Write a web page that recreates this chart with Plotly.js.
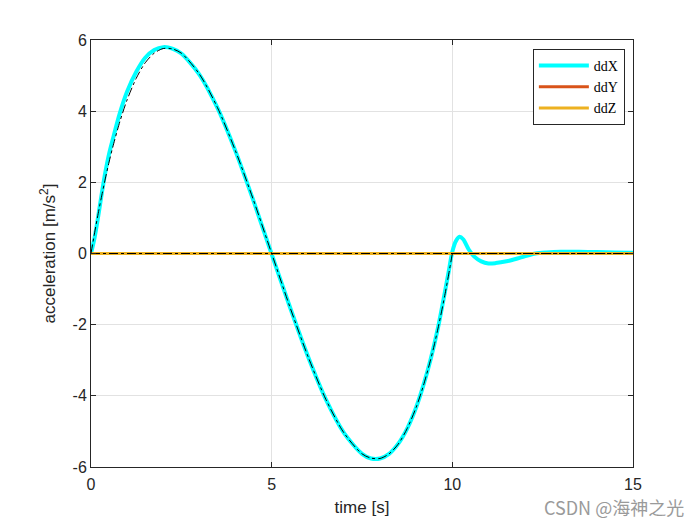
<!DOCTYPE html>
<html>
<head>
<meta charset="utf-8">
<script src="https://cdn.plot.ly/plotly-3.0.1.min.js"></script>
<style>
  html, body { margin: 0; padding: 0; background: #fff; }
  #plot { width: 700px; height: 525px; }
</style>
</head>
<body>
<div id="plot"></div>
<script>
// time samples [s] and values
const tX = [0, 0.1, 0.2, 0.3, 0.4, 0.5, 0.6, 0.8, 1.0, 1.25, 1.5, 1.75, 2.0, 2.25, 2.5, 3.0, 3.5, 4.0, 4.5, 5.0,
            5.5, 6.0, 6.5, 7.0, 7.5, 7.75, 8.0, 8.25, 8.5, 8.75, 9.0, 9.2, 9.4, 9.6, 9.8, 9.9, 10.0, 10.1, 10.2,
            10.3, 10.45, 10.6, 10.8, 11.0, 11.2, 11.5, 11.8, 12.0, 12.3, 12.6, 13.0, 13.5, 14.0, 14.5, 15.0];
const ddX = [0, 0.45, 1.05, 1.7, 2.3, 2.8, 3.2, 3.95, 4.55, 5.1, 5.5, 5.72, 5.8, 5.76, 5.62, 5.03, 4.09, 2.87, 1.47, -0.02,
             -1.49, -2.88, -4.1, -5.04, -5.63, -5.76, -5.76, -5.63, -5.35, -4.92, -4.32, -3.7, -2.97, -2.1, -1.05, -0.5, 0.05, 0.35, 0.47,
             0.4, 0.12, -0.08, -0.22, -0.28, -0.27, -0.22, -0.14, -0.08, 0.0, 0.03, 0.05, 0.05, 0.04, 0.03, 0.02];

// reference (dash-dot) during the move, then flat at zero
const tRef = [0, 0.1, 0.2, 0.3, 0.4, 0.5, 0.6, 0.8, 1.0, 1.25, 1.5, 1.75, 2.0, 2.25, 2.5, 3.0, 3.5, 4.0, 4.5, 5.0,
              5.5, 6.0, 6.5, 7.0, 7.5, 7.75, 8.0, 8.25, 8.5, 8.75, 9.0, 9.2, 9.4, 9.5, 9.6, 9.7, 9.8, 9.9, 10.0];
const refX = [0, 0.58, 1.13, 1.64, 2.12, 2.57, 2.98, 3.71, 4.32, 4.92, 5.36, 5.63, 5.76, 5.75, 5.63, 5.04, 4.1, 2.88, 1.49, 0,
              -1.49, -2.88, -4.1, -5.04, -5.63, -5.75, -5.76, -5.63, -5.36, -4.92, -4.32, -3.71, -2.98, -2.57, -2.12, -1.64, -1.13, -0.58, 0];
const tRefTail = [10, 15];
const refXTail = [0, 0];

const tYZ = [0, 15];
const ddY = [0, 0];
const ddZ = [0, 0];
const refY = [0, 0];
const refZ = [0, 0];

const xTicks = [0, 5, 10, 15];
const xTickText = ['0', '5', '10', '15'];
const yTicks = [-6, -4, -2, 0, 2, 4, 6];
const yTickText = ['-6', '-4', '-2', '0', '2', '4', '6'];

const refLine = { color: '#000000', width: 1, dash: 'dashdot' };

const traces = [
  { x: tX, y: ddX, mode: 'lines', name: 'ddX', line: { color: '#00FFFF', width: 4, shape: 'spline', smoothing: 0.8 } },
  { x: tYZ, y: ddY, mode: 'lines', name: 'ddY', line: { color: '#D95319', width: 3 } },
  { x: tYZ, y: ddZ, mode: 'lines', name: 'ddZ', line: { color: '#EDB120', width: 3 } },
  { x: tRef, y: refX, mode: 'lines', showlegend: false, line: Object.assign({ shape: 'spline', smoothing: 0.8 }, refLine) },
  { x: tRefTail, y: refXTail, mode: 'lines', showlegend: false, line: refLine },
  { x: tYZ, y: refY, mode: 'lines', showlegend: false, line: refLine },
  { x: tYZ, y: refZ, mode: 'lines', showlegend: false, line: refLine }
];

const sans = 'Liberation Sans, Arial, sans-serif';

const axisBase = {
  showline: true,
  linecolor: '#262626',
  linewidth: 1,
  mirror: 'ticks',
  ticks: 'inside',
  ticklen: 5,
  tickcolor: '#262626',
  showgrid: true,
  gridcolor: '#e2e2e2',
  zeroline: false,
  tickfont: { family: sans, size: 16, color: '#262626' }
};

const layout = {
  width: 700,
  height: 525,
  margin: { l: 91, r: 67, t: 40, b: 58 },
  paper_bgcolor: '#ffffff',
  plot_bgcolor: '#ffffff',
  showlegend: true,
  legend: {
    x: 0.985, y: 0.979, xanchor: 'right', yanchor: 'top',
    bgcolor: '#ffffff', bordercolor: '#262626', borderwidth: 1,
    font: { family: 'Liberation Serif, Times New Roman, serif', size: 14, color: '#000' },
    itemwidth: 50,
    tracegroupgap: 0
  },
  xaxis: Object.assign({}, axisBase, {
    range: [0, 15],
    tickvals: xTicks, ticktext: xTickText,
    ticklabelstandoff: 3,
    title: { text: 'time [s]', standoff: 8, font: { family: sans, size: 17, color: '#262626' } }
  }),
  yaxis: Object.assign({}, axisBase, {
    range: [-6, 6],
    tickvals: yTicks, ticktext: yTickText,
    title: { text: 'acceleration [m/s<sup>2</sup>]', standoff: 12, font: { family: sans, size: 17, color: '#262626' } }
  }),
  annotations: [{
    xref: 'paper', yref: 'paper', x: 1.097, y: -0.094, xanchor: 'right', yanchor: 'middle',
    text: 'CSDN @海神之光', showarrow: false,
    font: { family: 'Noto Sans CJK SC, sans-serif', size: 18, color: '#9a9a9a' }
  }]
};

Plotly.newPlot('plot', traces, layout, { displayModeBar: false, staticPlot: true });
</script>
</body>
</html>
